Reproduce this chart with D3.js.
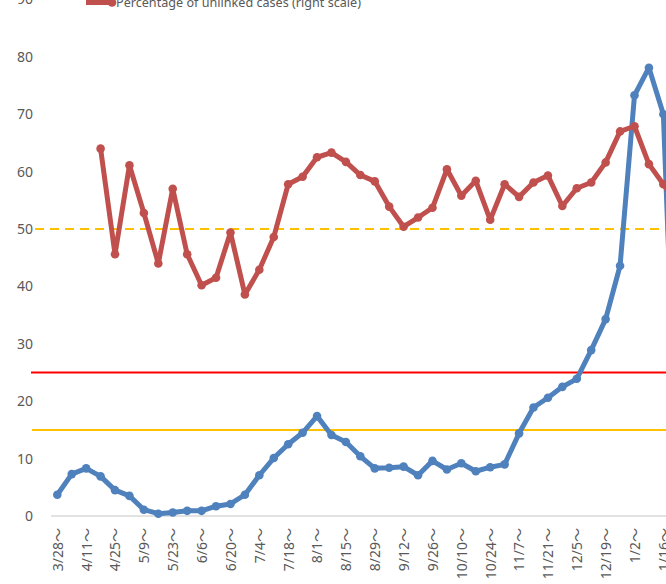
<!DOCTYPE html>
<html>
<head>
<meta charset="utf-8">
<script src="https://cdn.jsdelivr.net/npm/d3@7"></script>
<style>
  html, body { margin: 0; padding: 0; background: #fff; }
  svg { display: block; }
  text { font-family: "Noto Sans", "Noto Sans CJK JP", sans-serif; fill: #595959; }
</style>
</head>
<body>
<svg id="chart" width="666" height="584"></svg>
<script>
// ---- data ----
const weeks = ["3/28","4/4","4/11","4/18","4/25","5/2","5/9","5/16","5/23","5/30",
  "6/6","6/13","6/20","6/27","7/4","7/11","7/18","7/25","8/1","8/8",
  "8/15","8/22","8/29","9/5","9/12","9/19","9/26","10/3","10/10","10/17",
  "10/24","10/31","11/7","11/14","11/21","11/28","12/5","12/12","12/19","12/26",
  "1/2","1/9","1/16","1/23"];
// left scale series (blue)
const casesValues = [3.7,7.3,8.3,6.9,4.5,3.5,1.1,0.4,0.6,0.9,
  0.9,1.7,2.1,3.7,7.1,10.1,12.5,14.5,17.4,14.1,
  12.9,10.4,8.3,8.4,8.6,7.1,9.6,8.1,9.2,7.8,
  8.5,9.0,14.4,18.9,20.6,22.5,23.9,28.9,34.3,43.6,
  73.3,78.1,70.0,4.0];
// right scale series (red), starting at 4/18
const unlinkedValues = [null,null,null,64.0,45.6,61.1,52.8,44.0,57.0,45.6,
  40.2,41.5,49.4,38.6,42.9,48.6,57.8,59.1,62.5,63.3,
  61.7,59.4,58.3,53.9,50.4,52.0,53.7,60.4,55.8,58.4,
  51.6,57.8,55.6,58.1,59.3,54.0,57.1,58.1,61.6,67.0,
  67.9,61.3,57.8,54.0];
const leftTicks = [0,10,20,30,40,50,60,70,80,90];
const refLeftRed = 25;
const refLeftYellow = 15;
const refRightDashed = 50;
const legendLabel = "Percentage of unlinked cases (right scale)";

// ---- layout ----
const svg = d3.select("#chart");
const x0 = 57.3, step = 14.43;
const x = d3.scalePoint().domain(weeks).range([x0, x0 + step * (weeks.length - 1)]);
const yL = d3.scaleLinear().domain([0, 90]).range([516, -0.6]);
const yR = d3.scaleLinear().domain([0, 90]).range([516, -0.6]);

// left axis labels
const yAxis = d3.axisLeft(yL).tickValues(leftTicks).tickSize(0).tickPadding(0);
const gy = svg.append("g").attr("transform", "translate(33,0)").call(yAxis);
gy.select(".domain").remove();
gy.selectAll("text").style("font-size", "14px").attr("fill", "#595959")
  .style("font-family", "'Noto Sans', sans-serif");

// baseline
svg.append("line").attr("x1", 51).attr("x2", 700)
  .attr("y1", yL(0)).attr("y2", yL(0))
  .attr("stroke", "#d9d9d9").attr("stroke-width", 1.5);

// x axis labels
const xAxis = d3.axisBottom(x)
  .tickValues(weeks.filter((d, i) => i % 2 === 0))
  .tickFormat(d => d + "～").tickSize(0).tickPadding(0);
const gx = svg.append("g").attr("transform", "translate(0,528)").call(xAxis);
gx.select(".domain").remove();
gx.selectAll("text")
  .style("font-size", "14px").attr("fill", "#595959")
  .style("font-family", "'Noto Sans', 'Noto Sans CJK JP', sans-serif")
  .attr("text-anchor", "end")
  .attr("transform", "rotate(-90)")
  .attr("x", 0).attr("y", 0).attr("dy", "0.35em");

// reference lines
svg.append("line").attr("x1", 31).attr("x2", 700)
  .attr("y1", yL(refLeftRed)).attr("y2", yL(refLeftRed))
  .attr("stroke", "#ff0000").attr("stroke-width", 2);
svg.append("line").attr("x1", 32).attr("x2", 700)
  .attr("y1", yL(refLeftYellow)).attr("y2", yL(refLeftYellow))
  .attr("stroke", "#ffc000").attr("stroke-width", 2);
svg.append("line").attr("x1", 35).attr("x2", 700)
  .attr("y1", yR(refRightDashed)).attr("y2", yR(refRightDashed))
  .attr("stroke", "#ffc000").attr("stroke-width", 2)
  .attr("stroke-dasharray", "9,6");

// blue series
const blueData = weeks.map((w, i) => ({w, v: casesValues[i]}));
svg.append("path").datum(blueData)
  .attr("fill", "none").attr("stroke", "#4f81bd").attr("stroke-width", 5)
  .attr("stroke-linejoin", "round")
  .attr("d", d3.line().x(d => x(d.w)).y(d => yL(d.v)));
svg.append("g").selectAll("circle").data(blueData).join("circle")
  .attr("cx", d => x(d.w)).attr("cy", d => yL(d.v)).attr("r", 4.3)
  .attr("fill", "#4f81bd");

// red series
const redData = weeks.map((w, i) => ({w, v: unlinkedValues[i]})).filter(d => d.v != null);
svg.append("path").datum(redData)
  .attr("fill", "none").attr("stroke", "#c0504d").attr("stroke-width", 5)
  .attr("stroke-linejoin", "round")
  .attr("d", d3.line().x(d => x(d.w)).y(d => yR(d.v)));
svg.append("g").selectAll("circle").data(redData).join("circle")
  .attr("cx", d => x(d.w)).attr("cy", d => yR(d.v)).attr("r", 4.3)
  .attr("fill", "#c0504d");

// legend (partially cut off at top)
svg.append("line").attr("x1", 86).attr("x2", 114).attr("y1", 2.5).attr("y2", 2.5)
  .attr("stroke", "#c0504d").attr("stroke-width", 5);
svg.append("circle").attr("cx", 112).attr("cy", 2.5).attr("r", 4.3).attr("fill", "#c0504d");
svg.append("text").attr("x", 116).attr("y", 7)
  .style("font-size", "12px")
  .attr("textLength", 245).attr("lengthAdjust", "spacingAndGlyphs")
  .text(legendLabel);
</script>
</body>
</html>
